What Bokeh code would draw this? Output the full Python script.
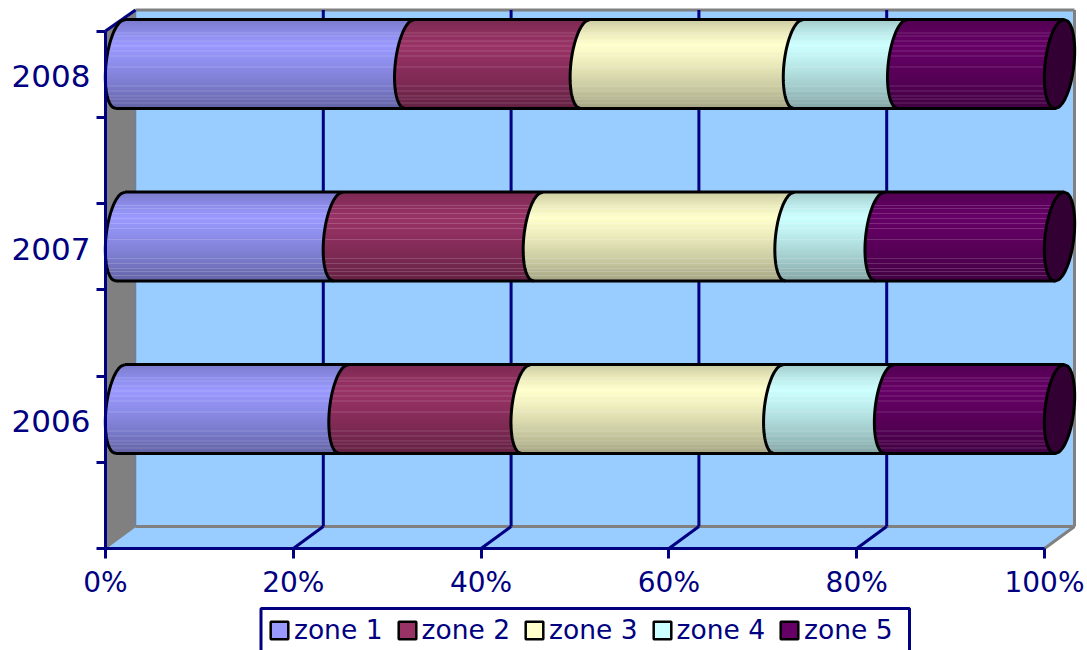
import numpy as np
from bokeh.plotting import figure
from bokeh.embed import file_html
from bokeh.resources import INLINE
from bokeh.models import Range1d, FixedTicker, Legend, LegendItem
from bokeh.core.properties import value

years = [2006, 2007, 2008]
zones = ["zone 1", "zone 2", "zone 3", "zone 4", "zone 5"]
zone_1 = [23.8, 23.2, 30.8]
zone_2 = [19.4, 21.3, 18.7]
zone_3 = [26.9, 26.8, 22.7]
zone_4 = [11.8, 9.6, 11.1]
zone_5 = [18.1, 19.1, 16.7]
zone_colors = ["#9999FF", "#993366", "#FFFFCC", "#CCFFFF", "#660066"]
x_ticks = [0, 20, 40, 60, 80, 100]

NAVY = "#000080"
GREY = "#808080"
WALL = "#99CCFF"
FONT = "DejaVu Sans"
W, H = 1087, 650
PX_X = 9.39
PX_Y = 172.5
X0, Y0 = 105, 408.6  # page position of 0 % and of the 2006 cylinder
DX, DY = 30 / PX_X, 22 / PX_Y
Y_FRONT = 2006 - (548 - Y0) / PX_Y
Y_BACK = Y_FRONT + DY
Y_TOP = 2006 + (Y0 - 9.5) / PX_Y
Y_AXIS_TOP = Y_FRONT + 3.0
HALF_H = 44.5 / PX_Y
A, S = 14.5 / PX_X, 4.5 / PX_X
CAP = 15 / PX_X

p = figure(width=W, height=H, output_backend="svg", toolbar_location=None,
           x_range=Range1d(-X0 / PX_X, (W - X0) / PX_X),
           y_range=Range1d(2006 - (H - Y0) / PX_Y, 2006 + Y0 / PX_Y),
           min_border_left=0, min_border_right=0, min_border_top=0, min_border_bottom=0,
           outline_line_color=None, background_fill_color="white", border_fill_color="white")
p.grid.visible = False

# axes
xa = p.xaxis[0]
xa.fixed_location = Y_FRONT
xa.ticker = FixedTicker(ticks=x_ticks)
xa.major_label_overrides = {t: f"{t}%" for t in x_ticks}
xa.bounds = (0, 100)
xa.axis_line_color = NAVY
xa.axis_line_width = 3
xa.major_tick_line_color = NAVY
xa.major_tick_line_width = 3
xa.major_tick_in = 0
xa.major_tick_out = 10
xa.minor_tick_line_color = None
xa.major_label_standoff = 7
xa.major_label_text_color = NAVY
xa.major_label_text_font = FONT
xa.major_label_text_font_size = "28px"

ya = p.yaxis[0]
ya.fixed_location = 0
label_pos = [y - 12 / PX_Y for y in years]
ya.ticker = FixedTicker(ticks=label_pos, minor_ticks=[Y_FRONT + k * 0.5 for k in range(7)])
ya.major_label_overrides = {t: str(y) for t, y in zip(label_pos, years)}
ya.bounds = (Y_FRONT, Y_AXIS_TOP)
ya.axis_line_color = NAVY
ya.axis_line_width = 3
ya.major_tick_line_color = None
ya.major_tick_in = 0
ya.major_tick_out = 0
ya.minor_tick_line_color = NAVY
ya.minor_tick_line_width = 3
ya.minor_tick_in = 0
ya.minor_tick_out = 9
ya.major_label_standoff = 6
ya.major_label_text_color = NAVY
ya.major_label_text_font = FONT
ya.major_label_text_font_size = "31px"

# walls and floor
p.patch([0, DX, DX, 0], [Y_FRONT, Y_BACK, Y_TOP, Y_AXIS_TOP], fill_color=GREY, line_color=GREY, line_width=1)
p.patch([0, 100, 100 + DX, DX], [Y_FRONT, Y_FRONT, Y_BACK, Y_BACK], fill_color=WALL, line_color=None)
p.quad(left=[DX], right=[100 + DX], bottom=[Y_BACK], top=[Y_TOP], fill_color=WALL, line_color=None)
p.segment([DX], [Y_TOP], [100 + DX], [Y_TOP], line_color=GREY, line_width=3)
p.segment([100 + DX], [Y_TOP], [100 + DX], [Y_BACK], line_color=GREY, line_width=3)
p.segment([DX], [Y_BACK], [100 + DX], [Y_BACK], line_color=GREY, line_width=3)
p.segment([100], [Y_FRONT], [100 + DX], [Y_BACK], line_color=GREY, line_width=3)
p.segment([0], [Y_FRONT], [DX], [Y_BACK], line_color=GREY, line_width=1.5)
p.segment([DX], [Y_BACK], [DX], [Y_TOP], line_color="#6E7FA0", line_width=1.5)
p.segment([0], [Y_AXIS_TOP], [DX], [Y_TOP], line_color=NAVY, line_width=3)

# gridlines and their floor diagonals
inner = [t for t in x_ticks if 0 < t < 100]
p.segment([t + DX for t in inner], [Y_BACK] * 4, [t + DX for t in inner], [Y_TOP] * 4, line_color=NAVY, line_width=3)
p.segment(inner, [Y_FRONT] * 4, [t + DX for t in inner], [Y_BACK] * 4, line_color=NAVY, line_width=3)

# cylinders
series = [zone_1, zone_2, zone_3, zone_4, zone_5]
ROWS = 89
STRIPES = {13, 16, 21, 26, 31, 36, 47, 66, 71, 76, 79, 83}


def edge(cx, s):
    return cx + CAP - A * np.sqrt(np.clip(1 - s * s, 0, 1)) + S * s


def shade(hex_color, row):
    frac = row / (ROWS - 1)
    f = np.interp(frac, [0, 0.12, 0.28, 0.45, 0.75, 1], [0.8, 0.9, 1.0, 0.94, 0.8, 0.65])
    rgb = np.array([int(hex_color[i:i + 2], 16) for i in (1, 3, 5)], dtype=float) * f
    if row in STRIPES:
        rgb = rgb + (255 - rgb) * 0.16
    return "#%02x%02x%02x" % tuple(int(round(v)) for v in rgb)


L, R, B, T, C = [], [], [], [], []
for i, y in enumerate(years):
    start = 0.0
    for zone, col in zip(series, zone_colors):
        end = start + zone[i]
        for row in range(ROWS):
            yt = y + HALF_H - row / ROWS * 2 * HALF_H
            yb = yt - (1.7 / PX_Y)
            s = (yt - 0.5 / PX_Y - y) / HALF_H
            L.append(edge(start, s))
            R.append(edge(end, s))
            T.append(yt)
            B.append(max(yb, y - HALF_H))
            C.append(shade(col, row))
        start = end
p.quad(left=L, right=R, bottom=B, top=T, fill_color=C, line_color=None)

ss = np.linspace(-1, 1, 61)
for i, y in enumerate(years):
    start = 0.0
    xs, ys = [], []
    for zone in series:
        xs.append(list(edge(start, ss)))
        ys.append(list(y + ss * HALF_H))
        start += zone[i]
    p.multi_line(xs, ys, line_color="black", line_width=3)
    # top and bottom silhouette
    p.segment([edge(0, 1), edge(0, -1)], [y + HALF_H, y - HALF_H], [edge(100, 1), edge(100, -1)],
              [y + HALF_H, y - HALF_H], line_color="black", line_width=3)
    # end cap
    right = 100 + CAP + A * np.sqrt(np.clip(1 - ss[::-1] ** 2, 0, 1)) + S * ss[::-1]
    p.patch(list(edge(100, ss)) + list(right), list(y + ss * HALF_H) + list(y + ss[::-1] * HALF_H),
            fill_color="#330033", line_color="black", line_width=3)

# legend box, drawn in page-aligned data units so it runs off the bottom edge
p.quad(left=[(260.5 - X0) / PX_X], right=[(909 - X0) / PX_X],
       top=[2006 + (Y0 - 608) / PX_Y], bottom=[2006 + (Y0 - 665) / PX_Y],
       fill_color="white", line_color=NAVY, line_width=3)

items = []
nan = float("nan")
for z, c in zip(zones, zone_colors):
    r = p.quad(left=[nan], right=[nan], bottom=[nan], top=[nan], fill_color=c, line_color="black", line_width=2.5)
    items.append(LegendItem(label=value(z), renderers=[r]))
legend = Legend(items=items, orientation="horizontal", location=(268, 5), margin=0, padding=0,
                spacing=13, glyph_width=22, glyph_height=22, label_standoff=4,
                label_text_font=FONT, label_text_font_size="26.5px", label_text_color=NAVY,
                border_line_color=None, background_fill_alpha=0)
p.add_layout(legend, "center")

open("out.html", "w").write(file_html(p, INLINE))
